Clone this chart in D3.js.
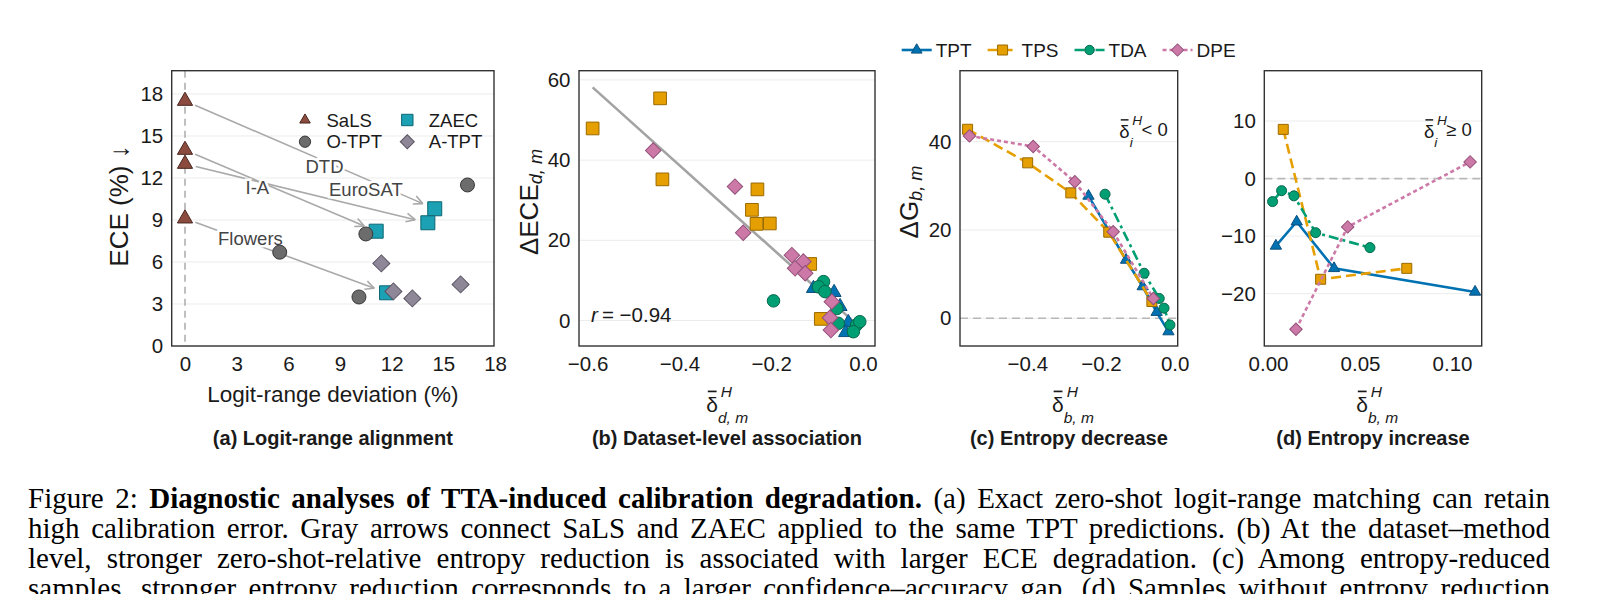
<!DOCTYPE html>
<html>
<head>
<meta charset="utf-8">
<script src="https://cdn.jsdelivr.net/npm/d3@7"></script>
<style>
  body { margin: 0; background: #fff; }
  svg { display: block; }
</style>
</head>
<body>
<script>
// ---------- data ----------
// (a) logit-range alignment: [deviation %, ECE %], order DTD, I-A, EuroSAT, Flowers
var aDatasets = ["DTD", "I-A", "EuroSAT", "Flowers"];
var aSaLS = [[0, 17.5], [0, 14.0], [0, 13.0], [0, 9.1]];
var aZAEC = [[14.5, 9.8], [11.1, 8.2], [14.1, 8.8], [11.7, 3.8]];
var aOTPT = [[16.4, 11.5], [10.5, 8.0], [5.5, 6.7], [10.1, 3.5]];
var aATPT = [[11.4, 5.9], [12.1, 3.9], [13.2, 3.4], [16.0, 4.4]];
var aLabelAt = [[8.1, 12.8], [4.2, 11.3], [10.5, 11.2], [3.8, 7.7]];
var aTicks = [0, 3, 6, 9, 12, 15, 18];

// methods shared by (b), (c), (d)
var methods = ["TPT", "TPS", "TDA", "DPE"];

// (b) dataset-level: [delta_H, dECE]
var bTPT = [[-0.108, 8.0], [-0.063, 7.0], [-0.050, 3.5], [-0.032, -0.5], [-0.038, -3.0]];
var bTPS = [[-0.589, 47.9], [-0.442, 55.4], [-0.437, 35.2], [-0.230, 32.7], [-0.242, 27.6],
            [-0.232, 24.1], [-0.203, 24.2], [-0.115, 14.1], [-0.092, 0.4]];
var bTDA = [[-0.195, 4.9], [-0.086, 9.7], [-0.097, 8.4], [-0.083, 7.2], [-0.057, 3.0],
            [-0.054, -0.7], [-0.014, -1.1], [-0.007, -0.3], [-0.021, -2.8]];
var bDPE = [[-0.457, 42.4], [-0.279, 33.4], [-0.261, 21.9], [-0.155, 16.3], [-0.130, 14.7],
            [-0.148, 13.0], [-0.126, 11.8], [-0.068, 4.7], [-0.072, 0.7], [-0.070, -2.4]];
var bCorr = "\u22120.94";
var bXTicks = [-0.6, -0.4, -0.2, 0.0];
var bYTicks = [0, 20, 40, 60];

// (c) entropy decrease: [delta_H bin, dG]
var cTPT = [[-0.234, 27.7], [-0.132, 13.2], [-0.087, 7.2], [-0.049, 1.4], [-0.017, -3.0]];
var cTPS = [[-0.562, 42.8], [-0.399, 35.2], [-0.282, 28.4], [-0.179, 19.5], [-0.062, 3.8]];
var cTDA = [[-0.189, 28.1], [-0.083, 10.2], [-0.042, 4.5], [-0.029, 2.3], [-0.013, -1.5]];
var cDPE = [[-0.557, 41.3], [-0.384, 38.9], [-0.271, 30.9], [-0.167, 19.6], [-0.058, 4.5]];
var cXTicks = [-0.4, -0.2, 0.0];
var cYTicks = [0, 20, 40];

// (d) entropy increase
var dTPT = [[0.0043, -11.7], [0.0156, -7.5], [0.0359, -15.6], [0.1125, -19.7]];
var dTPS = [[0.0083, 8.55], [0.0286, -17.5], [0.0754, -15.6]];
var dTDA = [[0.0025, -4.0], [0.0074, -2.1], [0.0141, -3.0], [0.0259, -9.4], [0.0554, -12.0]];
var dDPE = [[0.0152, -26.2], [0.0433, -8.4], [0.1098, 2.9]];
var dXTicks = [0.00, 0.05, 0.10];
var dYTicks = [-20, -10, 0, 10];

var captionLines = [
  [["Figure 2: ", 0], ["Diagnostic analyses of TTA-induced calibration degradation.", 1],
   [" (a) Exact zero-shot logit-range matching can retain", 0]],
  [["high calibration error. Gray arrows connect SaLS and ZAEC applied to the same TPT predictions. (b) At the dataset\u2013method", 0]],
  [["level, stronger zero-shot-relative entropy reduction is associated with larger ECE degradation. (c) Among entropy-reduced", 0]],
  [["samples, stronger entropy reduction corresponds to a larger confidence\u2013accuracy gap. (d) Samples without entropy reduction", 0]]
];

// ---------- styles ----------
var sans = '"Liberation Sans", Arial, Helvetica, sans-serif';
var serif = '"Liberation Serif", "Times New Roman", serif';
var ink = "#1a1a1a";
var methodStyle = {
  TPT: {shape: "triangle", fill: "#0072B2", stroke: "#0b4f7d", dash: null},
  TPS: {shape: "square", fill: "#E69F00", stroke: "#9a6a00", dash: "10,5"},
  TDA: {shape: "circle", fill: "#009E73", stroke: "#06684c", dash: "10,4,3,4"},
  DPE: {shape: "diamond", fill: "#CC79A7", stroke: "#93507a", dash: "4,3"}
};
var aStyle = {
  SaLS: {shape: "triangle", fill: "#8b4b3f", stroke: "#4a271f"},
  ZAEC: {shape: "square", fill: "#1ba0b4", stroke: "#0d6671"},
  OTPT: {shape: "circle", fill: "#6c6c6c", stroke: "#383838"},
  ATPT: {shape: "diamond", fill: "#8e8797", stroke: "#595262"}
};

var plotTop = 70.7, plotBottom = 346;

var svg = d3.select("body").append("svg")
  .attr("width", 1600).attr("height", 594);

function symbolPath(shape, size) {
  var t = shape === "triangle" ? d3.symbolTriangle : shape === "circle" ? d3.symbolCircle : d3.symbolSquare;
  return d3.symbol().type(t).size(size)();
}

function drawPoints(g, pts, x, y, st, size) {
  g.append("g").selectAll("path").data(pts).enter().append("path")
    .attr("d", symbolPath(st.shape, size))
    .attr("transform", function(d) {
      return "translate(" + x(d[0]) + "," + y(d[1]) + ")" + (st.shape === "diamond" ? " rotate(45)" : "");
    })
    .attr("fill", st.fill).attr("stroke", st.stroke).attr("stroke-width", 1);
}

function panel(cfg) {
  var x = d3.scaleLinear().domain(cfg.xDomain).range([cfg.left, cfg.right]);
  var y = d3.scaleLinear().domain(cfg.yDomain).range([plotBottom, plotTop]);
  var g = svg.append("g");
  svg.append("clipPath").attr("id", "clip" + cfg.name).append("rect")
    .attr("x", cfg.left).attr("y", plotTop)
    .attr("width", cfg.right - cfg.left).attr("height", plotBottom - plotTop);

  g.append("g").selectAll("line").data(cfg.yTicks).enter().append("line")
    .attr("x1", cfg.left).attr("x2", cfg.right)
    .attr("y1", function(d) { return y(d); }).attr("y2", function(d) { return y(d); })
    .attr("stroke", "#ececec").attr("stroke-width", 1);

  var xa = g.append("g").attr("transform", "translate(0," + plotBottom + ")")
    .call(d3.axisBottom(x).tickValues(cfg.xTicks).tickFormat(cfg.xFormat).tickSize(0).tickPadding(10));
  var ya = g.append("g").attr("transform", "translate(" + cfg.left + ",0)")
    .call(d3.axisLeft(y).tickValues(cfg.yTicks).tickFormat(d3.format("d")).tickSize(0).tickPadding(8.5));
  [xa, ya].forEach(function(a) {
    a.select(".domain").remove();
    a.selectAll(".tick line").remove();
    a.attr("font-family", sans).attr("font-size", 20.5).attr("color", ink);
  });

  var marks = g.append("g").attr("clip-path", "url(#clip" + cfg.name + ")");
  g.append("rect")
    .attr("x", cfg.left).attr("y", plotTop)
    .attr("width", cfg.right - cfg.left).attr("height", plotBottom - plotTop)
    .attr("fill", "none").attr("stroke", "#333").attr("stroke-width", 1.4);

  // subtitle
  var cx = (cfg.left + cfg.right) / 2;
  g.append("text").attr("x", cx).attr("y", 445).attr("text-anchor", "middle")
    .attr("font-family", sans).attr("font-size", 20).attr("font-weight", "bold").attr("fill", ink)
    .text(cfg.subtitle);

  return {x: x, y: y, g: g, marks: marks, cx: cx};
}

// delta-bar with superscript H and a subscript
function deltaSym(g, cx, by, sub, size) {
  var grp = g.append("g").attr("font-family", sans).attr("fill", ink);
  grp.append("text").attr("x", cx).attr("y", by).attr("text-anchor", "middle")
    .attr("font-size", size).text("\u03b4");
  grp.append("line").attr("x1", cx - size * 0.2).attr("x2", cx + size * 0.22)
    .attr("y1", by - size * 0.98).attr("y2", by - size * 0.98)
    .attr("stroke", ink).attr("stroke-width", size * 0.08);
  grp.append("text").attr("x", cx + size * 0.42).attr("y", by - size * 0.72)
    .attr("font-size", size * 0.74).attr("font-style", "italic").text("H");
  grp.append("text").attr("x", cx + size * 0.28).attr("y", by + size * 0.5)
    .attr("font-size", size * 0.74).attr("font-style", "italic").text(sub);
  return grp;
}

function zeroLineH(p) {
  p.marks.append("line").attr("x1", p.x.range()[0]).attr("x2", p.x.range()[1])
    .attr("y1", p.y(0)).attr("y2", p.y(0))
    .attr("stroke", "#b8b8b8").attr("stroke-width", 1.6).attr("stroke-dasharray", "8,5");
}

function yTitle(g, bx, cy, main, sub, size) {
  var t = g.append("text").attr("transform", "translate(" + bx + "," + cy + ") rotate(-90)")
    .attr("text-anchor", "middle").attr("font-family", sans).attr("font-size", size).attr("fill", ink);
  t.append("tspan").text(main);
  if (sub) t.append("tspan").attr("dy", size * 0.17).attr("font-size", size * 0.7)
    .attr("font-style", "italic").text(sub);
  return t;
}

// ---------- (a) ----------
var pa = panel({name: "a", left: 171.7, right: 494, xDomain: [-0.772, 17.94], yDomain: [0, 19.66],
  xTicks: aTicks, yTicks: [0, 3, 6, 9, 12, 15, 18], xFormat: d3.format("d"),
  subtitle: "(a) Logit-range alignment"});

pa.marks.append("line").attr("x1", pa.x(0)).attr("x2", pa.x(0))
  .attr("y1", plotTop).attr("y2", plotBottom)
  .attr("stroke", "#aaa").attr("stroke-width", 1.5).attr("stroke-dasharray", "7,5");

// arrows SaLS -> ZAEC on the same TPT predictions
aSaLS.forEach(function(s, i) {
  var x1 = pa.x(s[0]), y1 = pa.y(s[1]), x2 = pa.x(aZAEC[i][0]), y2 = pa.y(aZAEC[i][1]);
  var ang = Math.atan2(y2 - y1, x2 - x1), len = Math.hypot(x2 - x1, y2 - y1);
  var sx = x1 + Math.cos(ang) * 11, sy = y1 + Math.sin(ang) * 11;
  var ex = x1 + Math.cos(ang) * (len - 13), ey = y1 + Math.sin(ang) * (len - 13);
  var ag = pa.marks.append("g").attr("stroke", "#a9a9a9").attr("stroke-width", 1.6).attr("fill", "none");
  ag.append("line").attr("x1", sx).attr("y1", sy).attr("x2", ex).attr("y2", ey);
  [0.45, -0.45].forEach(function(da) {
    ag.append("line").attr("x1", ex).attr("y1", ey)
      .attr("x2", ex - Math.cos(ang + da) * 10).attr("y2", ey - Math.sin(ang + da) * 10);
  });
});
pa.marks.append("g").selectAll("text").data(aDatasets).enter().append("text")
  .attr("x", function(d, i) { return pa.x(aLabelAt[i][0]); })
  .attr("y", function(d, i) { return pa.y(aLabelAt[i][1]); })
  .attr("dy", "0.35em").attr("text-anchor", "middle")
  .attr("font-family", sans).attr("font-size", 18.5).attr("fill", "#444")
  .attr("stroke", "#fff").attr("stroke-width", 5).attr("paint-order", "stroke")
  .text(function(d) { return d; });

drawPoints(pa.marks, aZAEC, pa.x, pa.y, aStyle.ZAEC, 196);
drawPoints(pa.marks, aOTPT, pa.x, pa.y, aStyle.OTPT, 154);
drawPoints(pa.marks, aATPT, pa.x, pa.y, aStyle.ATPT, 144);
drawPoints(pa.marks, aSaLS, pa.x, pa.y, aStyle.SaLS, 100);

// legend (a)
var aLegend = [["SaLS", aStyle.SaLS, 305, 120, 48], ["ZAEC", aStyle.ZAEC, 407.3, 120, 130],
               ["O-TPT", aStyle.OTPT, 305, 141.7, 100], ["A-TPT", aStyle.ATPT, 407.3, 141.7, 98]];
aLegend.forEach(function(l) {
  pa.g.append("path").attr("d", symbolPath(l[1].shape, l[4]))
    .attr("transform", "translate(" + l[2] + "," + l[3] + ")" + (l[1].shape === "diamond" ? " rotate(45)" : ""))
    .attr("fill", l[1].fill).attr("stroke", l[1].stroke).attr("stroke-width", 1);
  pa.g.append("text").attr("x", l[2] + 21.5).attr("y", l[3]).attr("dy", "0.36em")
    .attr("font-family", sans).attr("font-size", 18.5).attr("fill", ink).text(l[0]);
});

yTitle(pa.g, 128, 206, "ECE (%) \u2193", null, 26);
pa.g.append("text").attr("x", pa.cx).attr("y", 402).attr("text-anchor", "middle")
  .attr("font-family", sans).attr("font-size", 22.5).attr("fill", ink)
  .text("Logit-range deviation (%)");

// ---------- (b) ----------
var pb = panel({name: "b", left: 579, right: 875, xDomain: [-0.6187, 0.0261], yDomain: [-6.36, 62.3],
  xTicks: bXTicks, yTicks: bYTicks, xFormat: d3.format(".1f"),
  subtitle: "(b) Dataset-level association"});

var bAll = [bTPT, bTPS, bTDA, bDPE];
var allPts = d3.merge(bAll);
var mx = d3.mean(allPts, function(d) { return d[0]; }), my = d3.mean(allPts, function(d) { return d[1]; });
var slope = d3.sum(allPts, function(d) { return (d[0] - mx) * (d[1] - my); }) /
            d3.sum(allPts, function(d) { return (d[0] - mx) * (d[0] - mx); });
var fitX = d3.extent(allPts, function(d) { return d[0]; });
pb.marks.append("line")
  .attr("x1", pb.x(fitX[0])).attr("y1", pb.y(my + slope * (fitX[0] - mx)))
  .attr("x2", pb.x(fitX[1])).attr("y2", pb.y(my + slope * (fitX[1] - mx)))
  .attr("stroke", "#a3a3a3").attr("stroke-width", 2.6);

var bSizes = {TPT: 85, TPS: 161, TDA: 123, DPE: 120};
bAll.forEach(function(pts, i) {
  drawPoints(pb.marks, pts, pb.x, pb.y, methodStyle[methods[i]], bSizes[methods[i]]);
});

var rText = pb.g.append("text").attr("x", 591).attr("y", 322)
  .attr("font-family", sans).attr("font-size", 20.5).attr("fill", ink);
rText.append("tspan").attr("font-style", "italic").text("r");
rText.append("tspan").text("\u2009= " + bCorr);

yTitle(pb.g, 538, 202, "\u0394ECE", "d, m", 26);
deltaSym(pb.g, pb.cx - 15, 412, "d, m", 21);

// ---------- (c) and (d) ----------
var pc = panel({name: "c", left: 960, right: 1177.7, xDomain: [-0.5826, 0.0081], yDomain: [-6.27, 56.06],
  xTicks: cXTicks, yTicks: cYTicks, xFormat: d3.format(".1f"),
  subtitle: "(c) Entropy decrease"});
var pd = panel({name: "d", left: 1264.3, right: 1481.7, xDomain: [-0.002, 0.1161], yDomain: [-29.1, 18.75],
  xTicks: dXTicks, yTicks: dYTicks, xFormat: d3.format(".2f"),
  subtitle: "(d) Entropy increase"});

var lineSizes = {TPT: 55, TPS: 100, TDA: 79, DPE: 78};
[[pc, [cTPT, cTPS, cTDA, cDPE], "< 0"], [pd, [dTPT, dTPS, dTDA, dDPE], "\u2265 0"]].forEach(function(item) {
  var p = item[0];
  zeroLineH(p);
  item[1].forEach(function(pts, i) {
    var st = methodStyle[methods[i]];
    p.marks.append("path").datum(pts)
      .attr("d", d3.line().x(function(d) { return p.x(d[0]); }).y(function(d) { return p.y(d[1]); }))
      .attr("fill", "none").attr("stroke", st.fill).attr("stroke-width", 2.6)
      .attr("stroke-dasharray", st.dash);
    drawPoints(p.marks, pts, p.x, p.y, st, lineSizes[methods[i]]);
  });
  // in-panel condition label
  var right = p.x.range()[1] - 10;
  var cond = p.g.append("text").attr("x", right).attr("y", 136).attr("text-anchor", "end")
    .attr("font-family", sans).attr("font-size", 18.5).attr("fill", ink).text(item[2]);
  var w = cond.node().getComputedTextLength();
  deltaSym(p.g, right - w - 17, 138, "i", 18.5);
  deltaSym(p.g, p.cx - 11, 412, "b, m", 21);
});

yTitle(pc.g, 918, 202, "\u0394G", "b, m", 26);

// top legend
var lx = 901.7;
methods.forEach(function(m) {
  var st = methodStyle[m];
  var lg = svg.append("g");
  lg.append("line").attr("x1", lx).attr("x2", lx + 30).attr("y1", 50).attr("y2", 50)
    .attr("stroke", st.fill).attr("stroke-width", 2.6).attr("stroke-dasharray", st.dash);
  lg.append("path").attr("d", symbolPath(st.shape, {TPT: 50, TPS: 100, TDA: 70, DPE: 75}[m]))
    .attr("transform", "translate(" + (lx + 15) + ",50)" + (st.shape === "diamond" ? " rotate(45)" : ""))
    .attr("fill", st.fill).attr("stroke", st.stroke).attr("stroke-width", 1);
  var t = lg.append("text").attr("x", lx + 34).attr("y", 50).attr("dy", "0.36em")
    .attr("font-family", sans).attr("font-size", 19).attr("fill", ink).text(m);
  lx += 34 + t.node().getComputedTextLength() + 16;
});

// ---------- caption (justified) ----------
var capLeft = 28, capWidth = 1522;
captionLines.forEach(function(line, i) {
  var t = svg.append("text").attr("x", capLeft).attr("y", 508 + i * 30)
    .attr("font-family", serif).attr("font-size", 29).attr("fill", "#000")
    .style("white-space", "pre");
  line.forEach(function(seg) {
    t.append("tspan").attr("font-weight", seg[1] ? "bold" : "normal").text(seg[0]);
  });
  var spaces = line.map(function(s) { return s[0]; }).join("").split(" ").length - 1;
  var len = t.node().getComputedTextLength();
  t.attr("word-spacing", (capWidth - len) / spaces);
});
</script>
</body>
</html>
